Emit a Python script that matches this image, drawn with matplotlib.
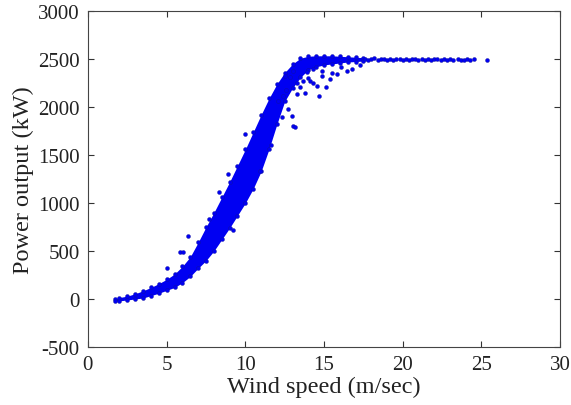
import matplotlib
matplotlib.use('Agg')
from matplotlib import pyplot as plt

# band of the dense scatter (wind m/s, kW)
band_wind = [1.7, 2.0, 2.5, 3.0, 3.5, 4.0, 4.5, 5.0, 5.5, 6.0, 6.5, 7.0, 7.5, 8.0,
             8.5, 9.0, 9.5, 10.0, 10.5, 11.0, 11.5, 12.0, 12.5, 13.0, 13.5, 14.0,
             14.5, 15.0, 15.5, 16.0, 16.5, 17.0, 17.5]
band_upper = [0, 15, 30, 55, 85, 120, 160, 205, 260, 340, 440, 590, 750, 900,
              1060, 1220, 1390, 1560, 1740, 1920, 2090, 2240, 2360, 2450, 2510, 2530,
              2535, 2535, 2535, 2530, 2525, 2520, 2515]
band_lower = [-25, -20, -10, 0, 10, 35, 60, 90, 120, 170, 235, 320, 400, 500,
              620, 740, 870, 1000, 1150, 1330, 1560, 1820, 2060, 2200, 2310, 2390,
              2420, 2440, 2450, 2460, 2470, 2475, 2480]

# scattered points outside the dense band
out_wind = [5.04, 5.85, 6.02, 6.38, 7.71, 9.24, 9.98, 12.95, 13.05, 13.16, 14.7, 15.13,
            12.73, 13.05, 12.52, 13.48, 14.11, 14.54, 15.38, 15.81, 16.45, 16.76, 17.29,
            14.32, 14.86, 13.9, 12.84, 13.27, 13.69, 8.3, 8.9, 10.9, 11.6, 12.3,
            12.6, 13.3, 13.8, 14.0, 14.3, 14.9, 15.5, 16.1, 12.1, 12.4]
out_power = [323, 493, 486, 660, 833, 722, 1719, 1910, 1805, 1795, 2111, 2205,
             1979, 2378, 2326, 2205, 2274, 2222, 2292, 2344, 2378, 2396, 2441,
             2396, 2326, 2361, 2309, 2135, 2274, 1120, 1300, 1330, 1600, 1900,
             2180, 2250, 2150, 2300, 2250, 2380, 2360, 2420, 2060, 2120]

# rated power plateau
flat_wind = [17.6, 17.8, 18.0, 18.2, 18.4, 18.6, 18.8, 19.0, 19.2, 19.4, 19.6, 19.8,
             20.0, 20.2, 20.4, 20.6, 20.8, 21.0, 21.2, 21.4, 21.6, 21.8, 22.0, 22.2,
             22.4, 22.6, 22.8, 23.0, 23.2, 23.5, 23.7, 23.9, 24.1, 24.3, 24.5, 25.35]
flat_power = [2505, 2495, 2500, 2510, 2490, 2500, 2505, 2495, 2500, 2490, 2505, 2500,
              2495, 2505, 2490, 2500, 2500, 2495, 2505, 2490, 2500, 2495, 2505, 2500,
              2490, 2500, 2495, 2505, 2490, 2500, 2495, 2490, 2500, 2495, 2500, 2490]

plt.rcParams['font.family'] = ['Liberation Serif', 'DejaVu Serif']
plt.rcParams['axes.unicode_minus'] = False
fig = plt.figure(figsize=(5.71, 4.06), dpi=100)
ax = fig.add_axes([0.154, 0.143, 0.827, 0.827])

blue = '#0000f2'
dot = dict(s=8, c=blue, edgecolors='#10109a', linewidths=0.3)
ax.fill_between(band_wind, band_lower, band_upper, color=blue, lw=0)
ax.scatter(band_wind, band_upper, **dot)
ax.scatter(band_wind, band_lower, **dot)
ax.scatter(out_wind, out_power, **dot)
ax.scatter(flat_wind, flat_power, **dot)

ax.set_xlim(0, 30)
ax.set_ylim(-500, 3000)
ax.set_xticks(range(0, 31, 5))
ax.set_yticks(range(-500, 3001, 500))
ax.tick_params(direction='in', length=4, top=True, right=True, labelsize=15,
               colors='#333333', labelcolor='#222222', pad=6)
for s in ax.spines.values():
    s.set_color('#444444')
ax.set_xlabel('Wind speed (m/sec)', fontsize=17.5, color='#222222', labelpad=1)
ax.set_ylabel('Power output (kW)', fontsize=17.5, color='#222222', labelpad=3)

fig.savefig('out.png', dpi=100)
